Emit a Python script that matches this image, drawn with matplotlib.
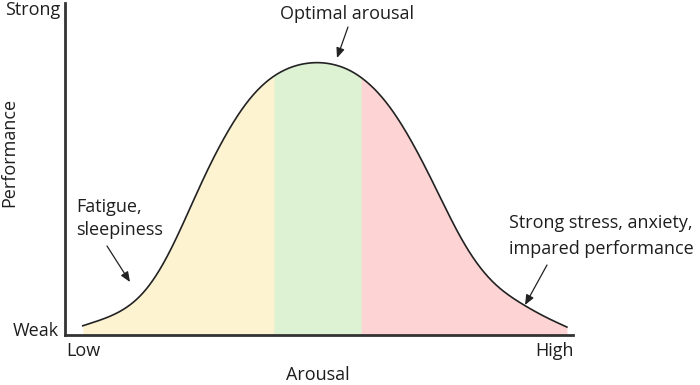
import numpy as np
import matplotlib
matplotlib.use("Agg")
import matplotlib.pyplot as plt

# ---- data ----
arousal = [3.5, 6.9, 9.8, 12.8, 15.4, 18.7, 22.0, 25.2, 28.5, 31.9, 35.4, 39.0,
           42.3, 45.7, 50.2, 55.5, 58.7, 62.0, 65.4, 68.5, 71.9, 75.2, 78.3,
           81.7, 85.0, 89.0, 92.1, 95.5, 98.8]
performance = [3.0, 4.5, 6.3, 9.0, 12.3, 19.3, 29.2, 40.4, 51.5, 60.8, 69.6, 75.6,
               79.2, 81.3, 82.2, 80.4, 77.1, 72.6, 65.7, 57.5, 47.9, 37.3, 27.7,
               20.2, 14.5, 10.5, 7.5, 4.5, 2.7]
zone_edges = [3.5, 41.3, 58.5, 98.8]
zone_colors = ["#fdf3d0", "#ddf1d3", "#fdd3d3"]
x_tick_labels = ["Low", "High"]
y_tick_labels = ["Weak", "Strong"]

W, H = 700, 385
plt.rcParams['font.family'] = ['Open Sans', 'DejaVu Sans']
fig = plt.figure(figsize=(W / 100, H / 100), dpi=100)

def fx(px):
    return px / W

def fy(py):
    return 1 - py / H

ax = fig.add_axes([fx(65), fy(335), fx(573) - fx(65), fy(3) - fy(335)])
ax.set_xlim(0, 100)
ax.set_ylim(0, 100)

# smooth line through the read points (linear densify + Whittaker smoothing)
xf = np.linspace(arousal[0], arousal[-1], 500)
y_lin = np.interp(xf, arousal, performance)
n = len(xf)
D = np.diff(np.eye(n), 2, axis=0)
lam = 2e4
yf = np.linalg.solve(np.eye(n) + lam * D.T @ D, y_lin)

for i in range(3):
    mask = (xf >= zone_edges[i] - 0.2) & (xf <= zone_edges[i + 1] + 0.2)
    ax.fill_between(xf[mask], 0, yf[mask], color=zone_colors[i], lw=0)

ax.plot(xf, yf, color="#222222", lw=1.2)

for s in ["top", "right"]:
    ax.spines[s].set_visible(False)
for s in ["left", "bottom"]:
    ax.spines[s].set_linewidth(2)
    ax.spines[s].set_color("#333333")
ax.set_xticks([])
ax.set_yticks([])

fs = 13
tc = "#1e1e1e"
kw = dict(fontsize=fs, color=tc)
fig.text(fx(60), fy(10), y_tick_labels[1], ha="right", va="center", **kw)
fig.text(fx(59), fy(331), y_tick_labels[0], ha="right", va="center", **kw)
fig.text(fx(66), fy(351), x_tick_labels[0], ha="left", va="center", **kw)
fig.text(fx(574), fy(351), x_tick_labels[1], ha="right", va="center", **kw)
fig.text(fx(318), fy(375), "Arousal", ha="center", va="center", **kw)
fig.text(fx(9), fy(152), "Performance", ha="center", va="center", rotation=90, **kw)

arrow = dict(arrowstyle="-|>,head_length=0.6,head_width=0.25", color="#222222", lw=0.9,
             shrinkA=0, shrinkB=0)
ax.annotate("", xy=(fx(337), fy(58)), xycoords="figure fraction",
            xytext=(fx(348), fy(27)), textcoords="figure fraction", arrowprops=arrow)
ax.annotate("", xy=(fx(130), fy(282)), xycoords="figure fraction",
            xytext=(fx(107), fy(246)), textcoords="figure fraction", arrowprops=arrow)
ax.annotate("", xy=(fx(525), fy(305)), xycoords="figure fraction",
            xytext=(fx(547), fy(265)), textcoords="figure fraction", arrowprops=arrow)

fig.text(fx(347), fy(14), "Optimal arousal", ha="center", va="center", **kw)
fig.text(fx(76), fy(207), "Fatigue,", ha="left", va="center", **kw)
fig.text(fx(76), fy(230), "sleepiness", ha="left", va="center", **kw)
fig.text(fx(509), fy(223), "Strong stress, anxiety,", ha="left", va="center", **kw)
fig.text(fx(509), fy(249), "impared performance", ha="left", va="center", **kw)

fig.savefig("out.png", dpi=100)
